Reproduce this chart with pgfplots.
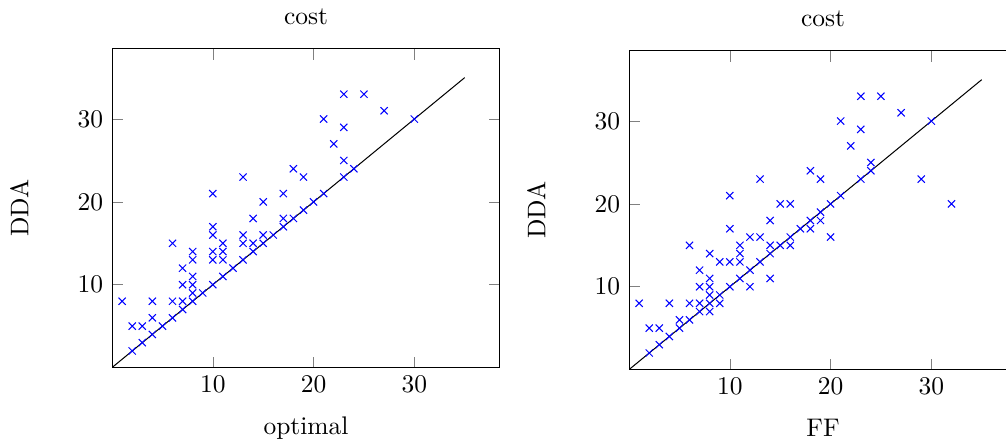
\documentclass[border=0pt]{standalone}
\usepackage{pgfplots}
\pgfplotsset{compat=1.18}
\begin{document}
\begin{tikzpicture}
\pgfplotsset{
  myaxis/.style={
    scale only axis,
    width=152.3pt, height=125.2pt,
    xmin=0, xmax=38.5, ymin=0, ymax=38.5,
    xtick={10,20,30}, ytick={10,20,30},
    title={cost}, ylabel={DDA},
    ylabel style={yshift=12.5pt},
    xlabel style={yshift=-2.7pt},
  },
  pts/.style={only marks, mark=x, blue, mark size=2pt},
}
\begin{axis}[myaxis, at={(0pt,0pt)}, anchor=south west, xlabel={optimal}]
\addplot[black] coordinates {(0,0) (35,35)};
\addplot[pts] coordinates {
(1,8) (2,5) (3,5) (2,2) (3,3) (4,4) (4,8) (4,6) (5,5) (6,6) (6,8) (6,15)
(7,7) (7,8) (7,10) (7,12) (8,8) (8,9) (8,10) (8,11) (8,13) (8,14) (9,9)
(10,10) (10,13) (10,14) (10,16) (10,17) (10,21) (11,11) (11,13) (11,14) (11,15)
(12,12) (13,13) (13,15) (13,16) (13,23) (14,14) (14,15) (14,18) (15,15) (15,16)
(15,20) (16,16) (17,17) (17,18) (17,21) (18,18) (18,24) (19,19) (19,23) (20,20)
(21,21) (21,30) (22,27) (23,23) (23,25) (23,29) (23,33) (24,24) (25,33) (27,31) (30,30)
};
\end{axis}
\begin{axis}[myaxis, at={(203pt,-0.8pt)}, anchor=south west, xlabel={FF}]
\addplot[black] coordinates {(0,0) (35,35)};
\addplot[pts] coordinates {
(1,8) (2,2) (2,5) (3,3) (3,5) (4,4) (4,8) (5,5) (5,6) (6,6) (6,8) (6,15)
(7,7) (7,8) (7,10) (7,12) (8,7) (8,8) (8,9) (8,10) (8,11) (8,14) (9,8) (9,9) (9,13)
(10,10) (10,13) (10,17) (10,21) (11,11) (11,13) (11,14) (11,15) (12,10) (12,12) (12,16)
(13,13) (13,16) (13,23) (14,11) (14,14) (14,15) (14,18) (15,15) (15,20) (16,15) (16,16)
(16,20) (17,17) (18,17) (18,18) (18,24) (19,18) (19,19) (19,23) (20,16) (20,20) (21,21)
(21,30) (22,27) (23,23) (23,29) (23,33) (24,24) (24,25) (25,33) (27,31) (29,23) (30,30) (32,20)
};
\end{axis}
\pgfresetboundingbox
\useasboundingbox (-44pt,-28.1pt) rectangle (351pt,144.3pt);
\end{tikzpicture}
\end{document}
